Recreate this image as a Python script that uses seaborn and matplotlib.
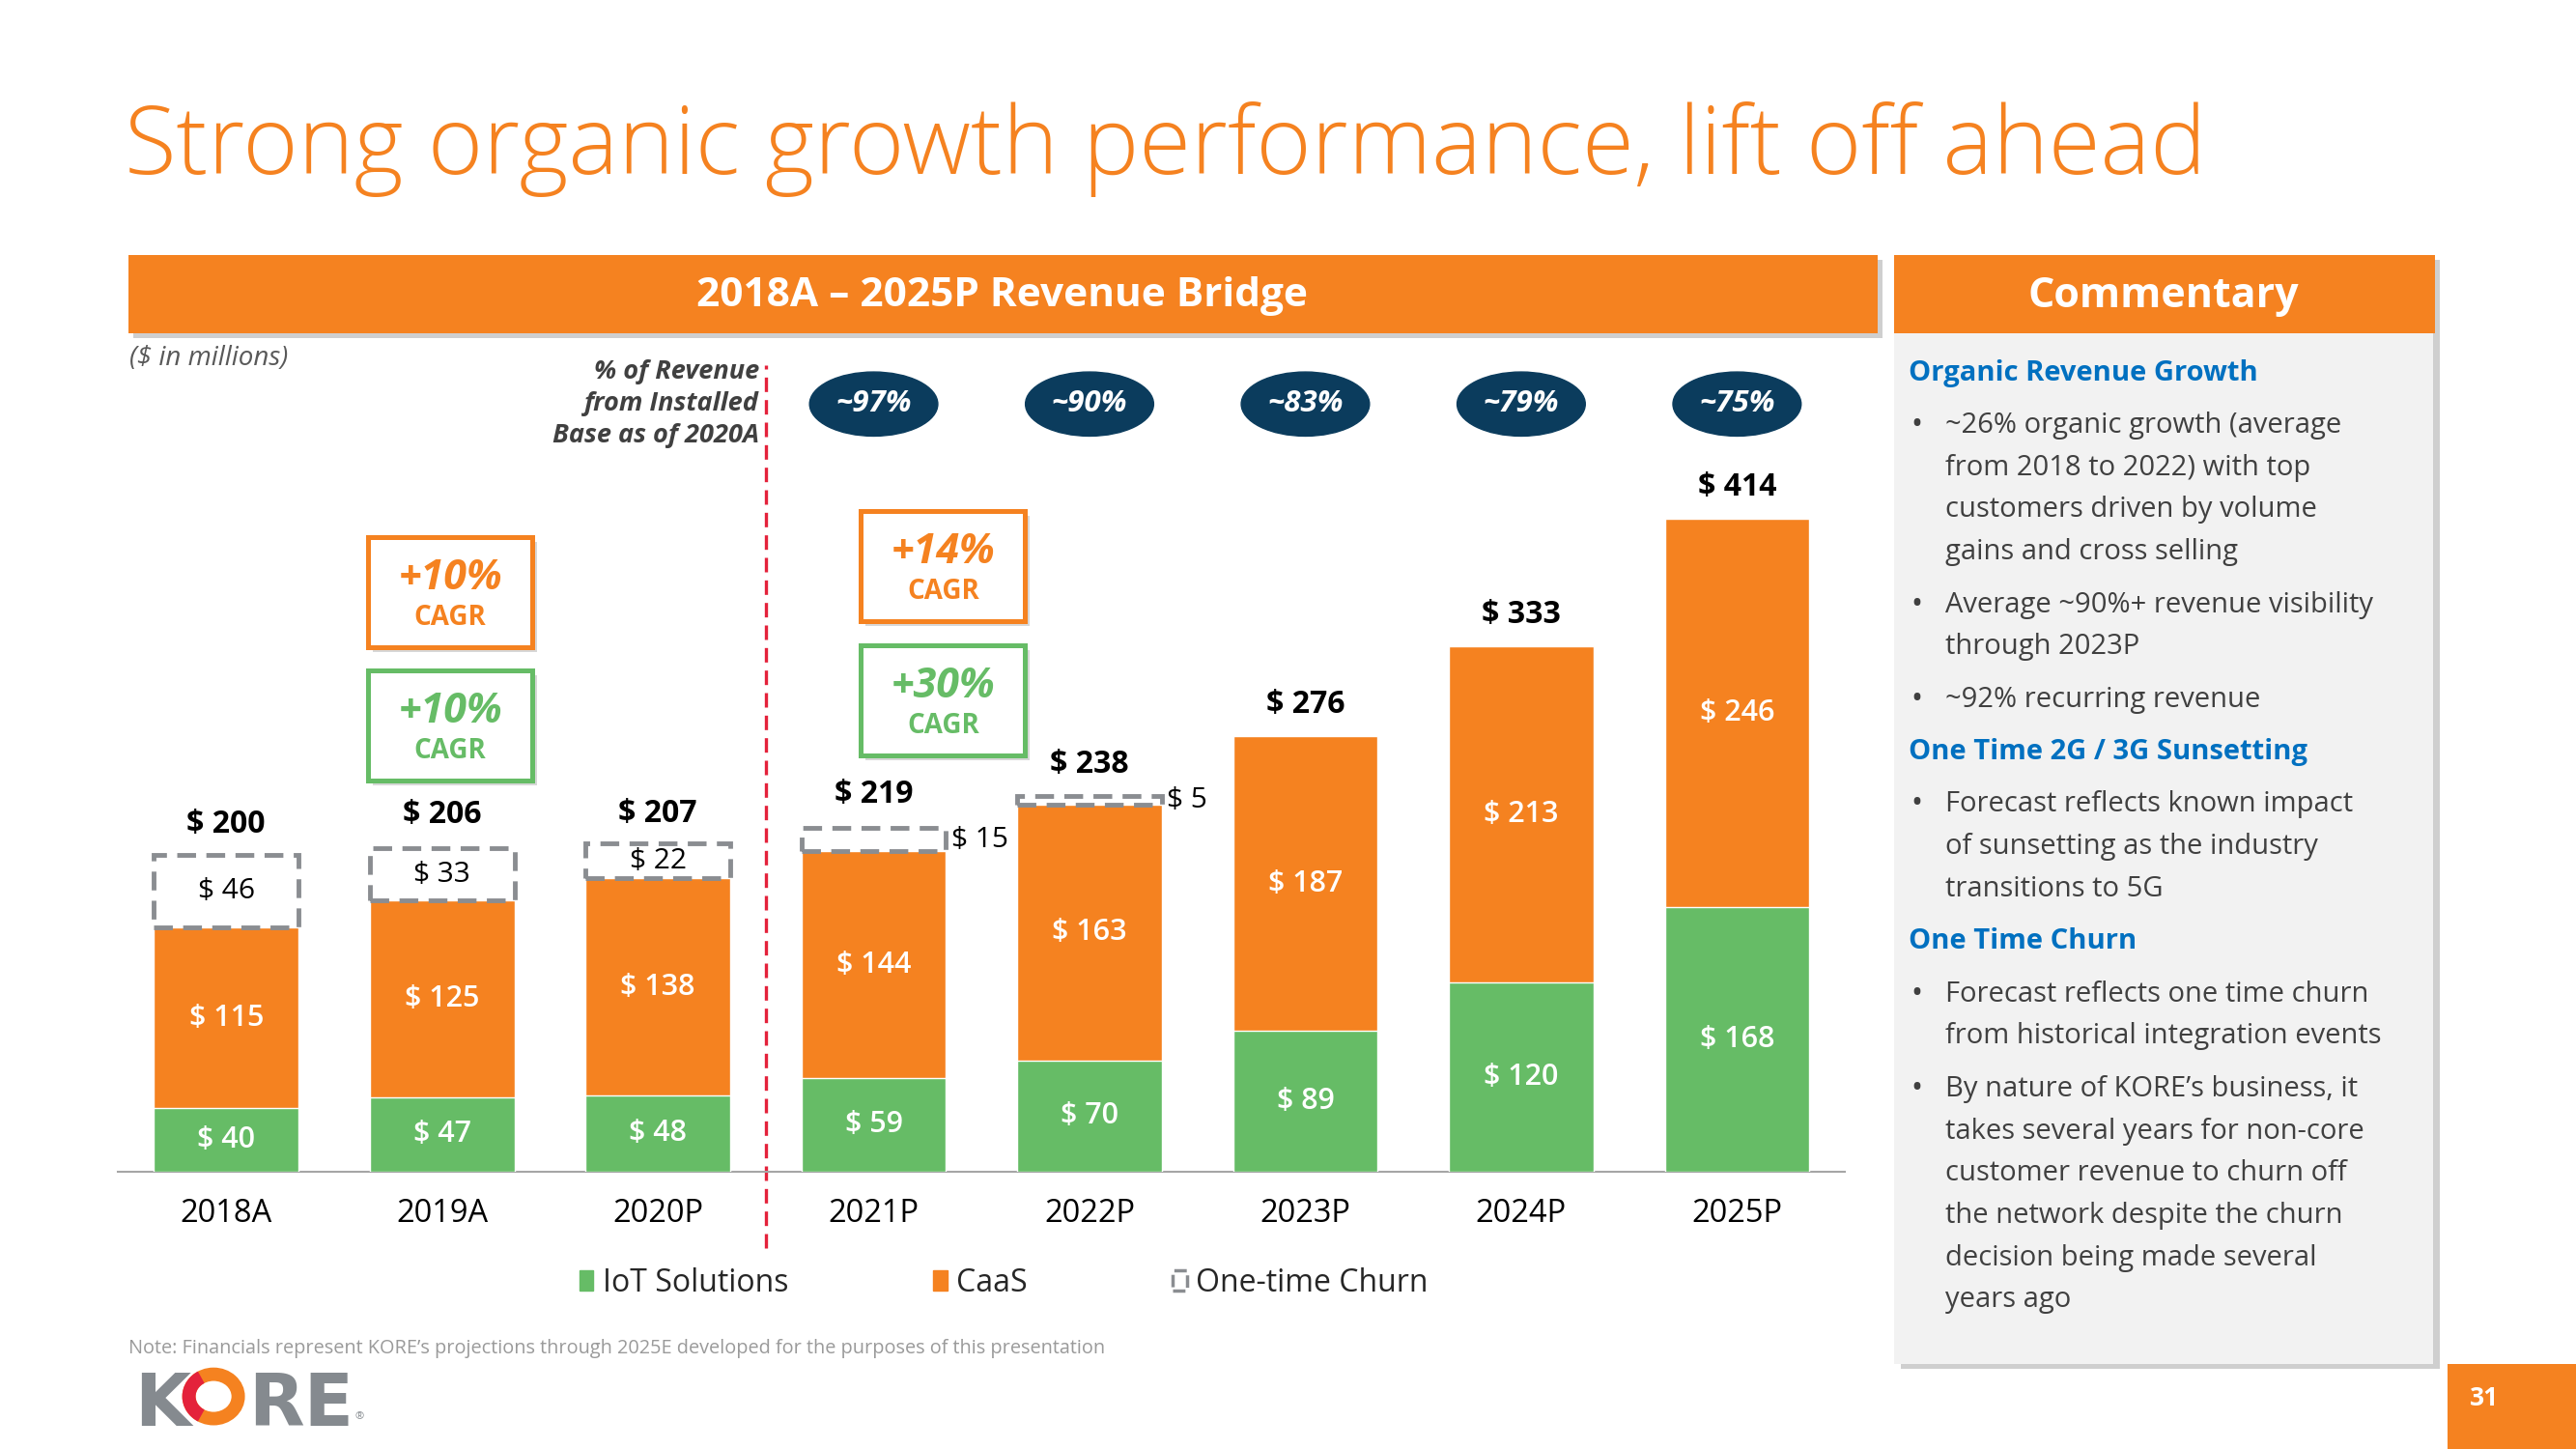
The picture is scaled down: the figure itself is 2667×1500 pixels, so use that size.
import matplotlib
matplotlib.use("Agg")
import matplotlib.pyplot as plt
import matplotlib.patches as mpatches
import seaborn as sns
import numpy as np

# chart data ($ in millions)
years = ["2018A", "2019A", "2020P", "2021P", "2022P", "2023P", "2024P", "2025P"]
iot = np.array([40, 47, 48, 59, 70, 89, 120, 168])
caas = np.array([115, 125, 138, 144, 163, 187, 213, 246])
churn = np.array([46, 33, 22, 15, 5, 0, 0, 0])
totals = np.array([200, 206, 207, 219, 238, 276, 333, 414])
installed_pct = ["~97%", "~90%", "~83%", "~79%", "~75%"]  # 2021P .. 2025P
cagr_caas = ["+10%", "+14%"]
cagr_iot = ["+10%", "+30%"]

sections = [
    ("Organic Revenue Growth", [
        ["~26% organic growth (average", "from 2018 to 2022) with top",
         "customers driven by volume", "gains and cross selling"],
        ["Average ~90%+ revenue visibility", "through 2023P"],
        ["~92% recurring revenue"]]),
    ("One Time 2G / 3G Sunsetting", [
        ["Forecast reflects known impact", "of sunsetting as the industry",
         "transitions to 5G"]]),
    ("One Time Churn", [
        ["Forecast reflects one time churn", "from historical integration events"],
        ["By nature of KORE\u2019s business, it", "takes several years for non-core",
         "customer revenue to churn off", "the network despite the churn",
         "decision being made several", "years ago"]]),
]

ORANGE = "#f58220"
GREEN = "#66bc66"
GRAY = "#8a8d91"
NAVY = "#0b3c5d"
RED = "#e4223b"
BLUE = "#0070c0"
TXT = "#404040"
SHADOW = "#b0b0b0"

sns.set_theme(style="white")
plt.rcParams["font.family"] = ["Open Sans", "DejaVu Sans"]

fig = plt.figure(figsize=(26.67, 15), dpi=100)
W, H = 1568, 882  # layout grid (slide units)


def fx(x):
    return x / W


def fy(y):
    return 1 - y / H


def frect(x0, y0, x1, y1, **kw):
    r = mpatches.Rectangle((fx(x0), fy(y1)), (x1 - x0) / W, (y1 - y0) / H,
                           transform=fig.transFigure, **kw)
    fig.add_artist(r)
    return r


def ftext(x, y, s, **kw):
    fig.text(fx(x), fy(y), s, **kw)


# title
ftext(76, 91, "Strong organic growth performance, lift off ahead", color=ORANGE,
      fontsize=70.5, fontweight="light", va="center", ha="left")

# header bars with shadow
frect(81, 158, 1146, 206, color=SHADOW, alpha=0.6, lw=0)
frect(78, 155, 1143, 203, color=ORANGE, lw=0)
ftext(610, 180, "2018A \u2013 2025P Revenue Bridge", color="white", fontsize=30.5,
      fontweight="bold", ha="center", va="center")

frect(1157, 158, 1485, 833, color=SHADOW, alpha=0.6, lw=0)
frect(1153, 203, 1481, 830, color="#f2f2f2", lw=0)
frect(1153, 155, 1482, 203, color=ORANGE, lw=0)
ftext(1317, 180, "Commentary", color="white", fontsize=31, fontweight="bold",
      ha="center", va="center")

# commentary text
y = 227
first = True
for head, bullets in sections:
    if not first:
        y += 32
    first = False
    ftext(1162, y, head, color=BLUE, fontsize=21, fontweight="bold", va="center")
    for b in bullets:
        y += 32
        ftext(1163, y, "\u2022", color=TXT, fontsize=23, va="center")
        for k, line in enumerate(b):
            if k > 0:
                y += 25.7
            ftext(1184, y, line, color=TXT, fontsize=21, va="center")

# chart axes
ax = fig.add_axes([fx(72), fy(713), fx(1123) - fx(72), 508.3 / H])
ax.patch.set_alpha(0)
x = np.arange(len(years))
sns.barplot(x=years, y=iot + caas, color=ORANGE, saturation=1, width=0.67,
            errorbar=None, ax=ax, zorder=2)
sns.barplot(x=years, y=iot, color=GREEN, saturation=1, width=0.67,
            errorbar=None, ax=ax, zorder=3)
has = churn > 0
ax.bar(x[has], churn[has], bottom=(iot + caas)[has], width=0.67, fill=False,
       edgecolor=GRAY, linewidth=3.5, linestyle=(0, (4, 2.2)), zorder=4)

ax.set_xlim(-0.5, 7.5)
ax.set_ylim(0, 530)
ax.set_yticks([])
ax.set_xlabel("")
ax.set_ylabel("")
for s in ["left", "top", "right"]:
    ax.spines[s].set_visible(False)
ax.spines["bottom"].set_color("#a6a6a6")
ax.spines["bottom"].set_linewidth(1.5)
ax.tick_params(axis="x", length=0, labelsize=23.5, pad=20, colors="black")

for i in x:
    ax.text(i, iot[i] / 2, f"$ {iot[i]}", ha="center", va="center", color="white",
            fontsize=22, fontweight="semibold", zorder=5)
    ax.text(i, iot[i] + caas[i] / 2, f"$ {caas[i]}", ha="center", va="center",
            color="white", fontsize=22, fontweight="semibold", zorder=5)
    ax.text(i, totals[i] + 20, f"$ {totals[i]}", ha="center", va="center",
            color="black", fontsize=23, fontweight="bold", zorder=5)
    if churn[i] > 0:
        cy = iot[i] + caas[i] + churn[i] / 2
        if i < 3:
            ax.text(i, cy, f"$ {churn[i]}", ha="center", va="center", color="black",
                    fontsize=21.5, zorder=5)
        else:
            ax.text(i + 0.36, cy, f"$ {churn[i]}", ha="left", va="center",
                    color="black", fontsize=21.5, zorder=5)

# installed-base divider
ax.axvline(2.5, ymin=-0.092, ymax=0.966, color=RED, lw=2.4,
           linestyle=(0, (4.5, 2.5)), clip_on=False, zorder=1)
ftext(462, 246, "% of Revenue\nfrom Installed\nBase as of 2020A", color=TXT,
      fontsize=19.5, fontweight="bold", style="italic", ha="right", va="center",
      linespacing=1.35)
ftext(79, 218, "($ in millions)", color="#595959", fontsize=20, style="italic",
      va="center")

for j, lab in enumerate(installed_pct):
    i = 3 + j
    ax.add_patch(mpatches.Ellipse((i, 487), 0.594, 40.7, color=NAVY, clip_on=False,
                                  zorder=5))
    ax.text(i, 487, lab, color="white", fontsize=22.5, fontweight="bold",
            style="italic", ha="center", va="center", zorder=6)


# CAGR boxes
def cagr_box(left, top, color, pct):
    frect(left + 3, top + 3, left + 103, top + 70, color=SHADOW, alpha=0.5, lw=0)
    frect(left, top, left + 100, top + 67, facecolor="white", edgecolor=color, lw=3.6)
    ftext(left + 50, top + 25, pct, color=color, fontsize=31, fontweight="bold",
          style="italic", ha="center", va="center")
    ftext(left + 50, top + 49, "CAGR", color=color, fontsize=20, fontweight="bold",
          ha="center", va="center")


cagr_box(224, 327, ORANGE, cagr_caas[0])
cagr_box(224, 408, GREEN, cagr_iot[0])
cagr_box(524, 311, ORANGE, cagr_caas[1])
cagr_box(524, 393, GREEN, cagr_iot[1])

# legend
handles = [mpatches.Patch(color=GREEN), mpatches.Patch(color=ORANGE),
           mpatches.Patch(facecolor="none", edgecolor=GRAY, lw=2.5, ls="--")]
fig.legend(handles, ["IoT Solutions", "CaaS", "One-time Churn"], loc="center",
           bbox_to_anchor=(fx(611), fy(781)), ncol=3, frameon=False, fontsize=23,
           handlelength=0.45, handleheight=0.6, handletextpad=0.3, columnspacing=4.7)

# footer
ftext(78, 821, "Note: Financials represent KORE\u2019s projections through 2025E "
      "developed for the purposes of this presentation", color="#9a9a9a",
      fontsize=14.3, va="center")
frect(1490, 830, 1568, 882, color=ORANGE, lw=0)
ftext(1512, 851, "31", color="white", fontsize=19, fontweight="bold", ha="center",
      va="center")

logo = dict(fontsize=54, fontweight="bold", va="baseline",
            family=["Liberation Sans Narrow", "DejaVu Sans"], color="#858a8f")
ftext(82, 868, "K", **logo)
ftext(151, 868, "RE", **logo)
ring = mpatches.Ellipse((fx(130), fy(850)), 30 / W, 27 / H, transform=fig.transFigure,
                        facecolor="none", edgecolor=ORANGE, lw=10)
fig.add_artist(ring)
arc = mpatches.Arc((fx(130), fy(850)), 30 / W, 27 / H, theta1=110, theta2=250,
                   transform=fig.transFigure, edgecolor="#e4223b", lw=10)
fig.add_artist(arc)
ftext(216, 864, "\u00ae", color="#858a8f", fontsize=8, va="baseline")

fig.savefig("out.png", dpi=100)
